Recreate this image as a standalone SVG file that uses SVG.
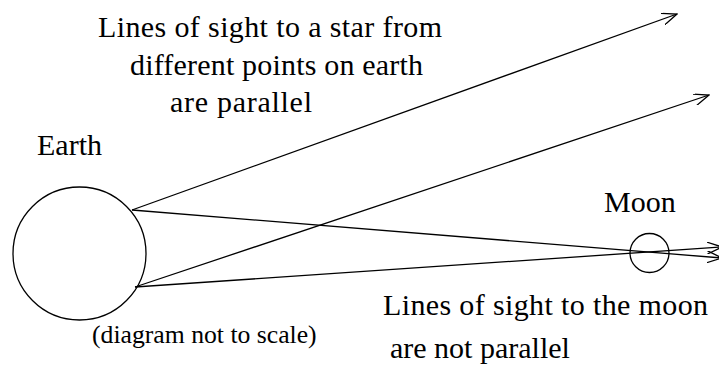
<svg xmlns="http://www.w3.org/2000/svg" width="719" height="365" viewBox="0 0 719 365">
<style>
text{font-family:'Liberation Serif','Times New Roman','DejaVu Serif',serif;font-size:30px;fill:#000}
.s{font-size:25.7px}
.ln{stroke:#000;stroke-width:1.3;fill:none}
</style>
<defs>
<marker id="ah" markerWidth="16" markerHeight="12" refX="15" refY="6" orient="auto" markerUnits="userSpaceOnUse">
<path d="M0,0 L15,6 L0,12" fill="none" stroke="#000" stroke-width="1.3"/>
</marker>
</defs>
<rect width="719" height="365" fill="#fff"/>
<g id="earth"><circle cx="79.5" cy="253.5" r="66.5" class="ln"/></g>
<g id="moon"><circle cx="649.5" cy="253" r="19.5" class="ln"/></g>
<g id="connectors">
<line x1="132" y1="210" x2="677" y2="14" class="ln" marker-end="url(#ah)"/>
<line x1="135" y1="287" x2="709" y2="95" class="ln" marker-end="url(#ah)"/>
<line x1="132" y1="210" x2="722" y2="258" class="ln" marker-end="url(#ah)"/>
<line x1="135" y1="287" x2="722" y2="247" class="ln" marker-end="url(#ah)"/>
</g>
<g id="labels">
<text x="98" y="37" textLength="344">Lines of sight to a star from</text>
<text x="130" y="75" textLength="293">different points on earth</text>
<text x="170" y="112" textLength="142">are parallel</text>
<text x="37" y="155">Earth</text>
<text x="604" y="212">Moon</text>
<text x="383" y="315" textLength="325">Lines of sight to the moon</text>
<text x="390" y="358">are not parallel</text>
<text class="s" x="92" y="343">(diagram not to scale)</text>
</g>
</svg>
